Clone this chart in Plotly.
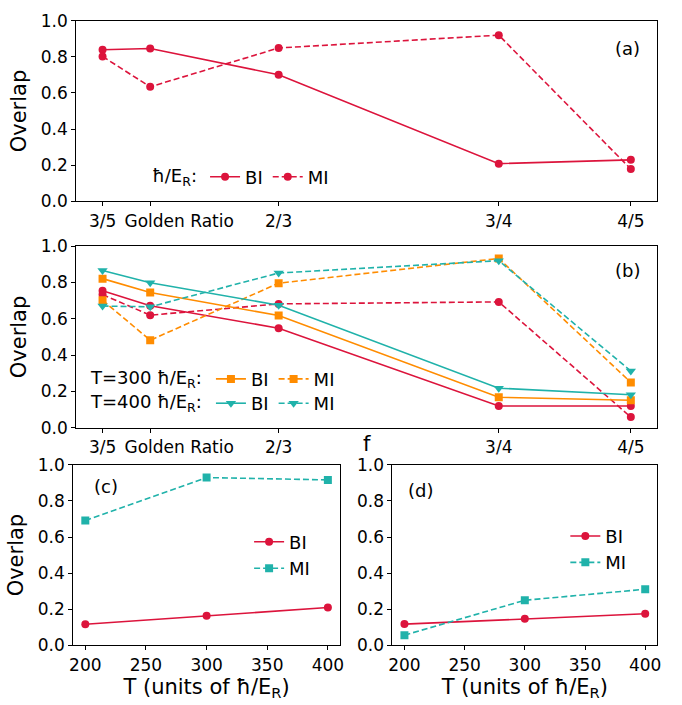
import plotly.graph_objects as go

# ---- data ----
f_vals = [0.6, 0.6180339887, 2 / 3, 0.75, 0.8]
f_labels = ["3/5", "Golden Ratio", "2/3", "3/4", "4/5"]

a_bi = [0.839, 0.846, 0.701, 0.209, 0.230]
a_mi = [0.802, 0.634, 0.849, 0.920, 0.179]

b200_bi = [0.754, 0.672, 0.548, 0.120, 0.120]
b200_mi = [0.733, 0.620, 0.682, 0.693, 0.059]
b300_bi = [0.821, 0.745, 0.618, 0.168, 0.152]
b300_mi = [0.702, 0.482, 0.796, 0.932, 0.250]
b400_bi = [0.866, 0.798, 0.675, 0.218, 0.182]
b400_mi = [0.670, 0.666, 0.852, 0.920, 0.3125]

T_vals = [200, 300, 400]
c_bi = [0.117, 0.164, 0.210]
c_mi = [0.692, 0.929, 0.916]
d_bi = [0.118, 0.148, 0.175]
d_mi = [0.057, 0.250, 0.311]

y_ticks = [0.0, 0.2, 0.4, 0.6, 0.8, 1.0]
T_ticks = [200, 250, 300, 350, 400]

RED = "#DC143C"
ORANGE = "#FF8C00"
TEAL = "#20B2AA"
FONT = "DejaVu Sans"
DASH = "6px,3px"

W, H = 682, 705


def xd(x0, x1):
    return [x0 / W, x1 / W]


def yd(top, bottom):
    return [1 - bottom / H, 1 - top / H]


fig = go.Figure()


def add(x, y, color, symbol, dash, xa, ya, name, legend=None, size=8):
    fig.add_trace(go.Scatter(
        x=x, y=y, mode="lines+markers", name=name,
        line=dict(color=color, width=1.6, dash=dash),
        marker=dict(color=color, symbol=symbol, size=size),
        xaxis=xa, yaxis=ya,
        showlegend=legend is not None,
        legend=legend if legend else "legend",
    ))


# panel (a)
add(f_vals, a_bi, RED, "circle", "solid", "x", "y", "BI", "legend")
add(f_vals, a_mi, RED, "circle", DASH, "x", "y", "MI", "legend")

# panel (b)
add(f_vals, b200_bi, RED, "circle", "solid", "x2", "y2", "BI")
add(f_vals, b200_mi, RED, "circle", DASH, "x2", "y2", "MI")
add(f_vals, b300_bi, ORANGE, "square", "solid", "x2", "y2", "BI", "legend2")
add(f_vals, b300_mi, ORANGE, "square", DASH, "x2", "y2", "MI", "legend2")
add(f_vals, b400_bi, TEAL, "triangle-down", "solid", "x2", "y2", "BI", "legend3", 9)
add(f_vals, b400_mi, TEAL, "triangle-down", DASH, "x2", "y2", "MI", "legend3", 9)

# panel (c)
add(T_vals, c_bi, RED, "circle", "solid", "x3", "y3", "BI", "legend4")
add(T_vals, c_mi, TEAL, "square", DASH, "x3", "y3", "MI", "legend4")

# panel (d)
add(T_vals, d_bi, RED, "circle", "solid", "x4", "y4", "BI", "legend5")
add(T_vals, d_mi, TEAL, "square", DASH, "x4", "y4", "MI", "legend5")

# empty helper traces so the overlay axes carrying the "Golden Ratio" label are drawn
for xa, ya in (("x5", "y"), ("x6", "y2")):
    fig.add_trace(go.Scatter(x=[f_vals[1]], y=[None], xaxis=xa, yaxis=ya,
                             mode="markers", showlegend=False, hoverinfo="skip"))

tickfont = dict(family=FONT, size=17, color="black")
titlefont = dict(family=FONT, size=21, color="black")

axis_common = dict(
    showgrid=False, zeroline=False, showline=True, linecolor="black",
    linewidth=1, mirror=True, ticks="outside", ticklen=4, tickcolor="black",
    tickfont=tickfont, tickangle=0,
)

# main f-axis: all ticks, "Golden Ratio" label drawn by an overlay axis shifted right
f_ticktext_main = [f_labels[0], ""] + f_labels[2:]

overlay_common = dict(
    showgrid=False, zeroline=False, showline=False, ticks="outside",
    ticklen=4, tickcolor="rgba(0,0,0,0)",
    tickfont=tickfont, tickangle=0, side="bottom",
    tickvals=[f_vals[1]], ticktext=[f_labels[1]], ticklabelshift=29,
    range=[0.59, 0.81],
)

fig.update_layout(
    width=W, height=H,
    margin=dict(l=0, r=0, t=0, b=0),
    plot_bgcolor="white", paper_bgcolor="white",
    font=dict(family=FONT, color="black"),
    xaxis=dict(domain=xd(73, 661), anchor="y", range=[0.59, 0.81],
               tickvals=f_vals, ticktext=f_ticktext_main, **axis_common),
    yaxis=dict(domain=yd(11, 197), anchor="x", range=[0, 1],
               tickvals=y_ticks, tickformat=".1f",
               title=dict(text="Overlap", font=titlefont, standoff=8),
               **axis_common),
    xaxis2=dict(domain=xd(73, 661), anchor="y2", range=[0.59, 0.81],
                tickvals=f_vals, ticktext=f_ticktext_main,
                **axis_common),
    yaxis2=dict(domain=yd(243, 430), anchor="x2", range=[0, 1],
                tickvals=y_ticks, tickformat=".1f",
                title=dict(text="Overlap", font=titlefont, standoff=8),
                **axis_common),
    xaxis3=dict(domain=xd(70, 340), anchor="y3", range=[190, 410],
                tickvals=T_ticks,
                title=dict(text="T (units of ħ/E<sub>R</sub>)", font=titlefont, standoff=2),
                **axis_common),
    yaxis3=dict(domain=yd(468, 654), anchor="x3", range=[0, 1],
                tickvals=y_ticks, tickformat=".1f",
                title=dict(text="Overlap", font=titlefont, standoff=8),
                **axis_common),
    xaxis4=dict(domain=xd(393, 661), anchor="y4", range=[190, 410],
                tickvals=T_ticks,
                title=dict(text="T (units of ħ/E<sub>R</sub>)", font=titlefont, standoff=2),
                **axis_common),
    yaxis4=dict(domain=yd(468, 654), anchor="x4", range=[0, 1],
                tickvals=y_ticks, tickformat=".1f",
                **axis_common),
    xaxis5=dict(overlaying="x", anchor="y", **overlay_common),
    xaxis6=dict(overlaying="x2", anchor="y2", **overlay_common),
)

leg_common = dict(bgcolor="rgba(0,0,0,0)", borderwidth=0,
                  font=dict(family=FONT, size=18, color="black"),
                  itemwidth=30, xanchor="left", yanchor="middle")

fig.update_layout(
    legend=dict(orientation="h", x=148 / W, y=1 - 172 / H,
                title=dict(text="ħ/E<sub>R</sub>:", side="left",
                           font=dict(family=FONT, size=18, color="black")),
                **leg_common),
    legend2=dict(orientation="h", x=86 / W, y=1 - 380 / H,
                 title=dict(text="T=300 ħ/E<sub>R</sub>:", side="left",
                            font=dict(family=FONT, size=18, color="black")),
                 **leg_common),
    legend3=dict(orientation="h", x=86 / W, y=1 - 405 / H,
                 title=dict(text="T=400 ħ/E<sub>R</sub>:", side="left",
                            font=dict(family=FONT, size=18, color="black")),
                 **leg_common),
    legend4=dict(orientation="v", x=248 / W, y=1 - 561 / H, **leg_common),
    legend5=dict(orientation="v", x=568 / W, y=1 - 555 / H, **leg_common),
)

# x-axis title of panel (b)
fig.add_annotation(text="f", x=367 / W, y=1 - 447 / H, xref="paper", yref="paper",
                   showarrow=False, xanchor="center", yanchor="middle",
                   font=titlefont)

panel_labels = [("(a)", 631, 40), ("(b)", 631, 268), ("(c)", 103, 490), ("(d)", 421, 495)]
for txt, px, py in panel_labels:
    fig.add_annotation(text=txt, x=px / W, y=1 - py / H, xref="paper", yref="paper",
                       showarrow=False, xanchor="center", yanchor="middle",
                       font=dict(family=FONT, size=18, color="black"))

fig.write_html("out.html")
